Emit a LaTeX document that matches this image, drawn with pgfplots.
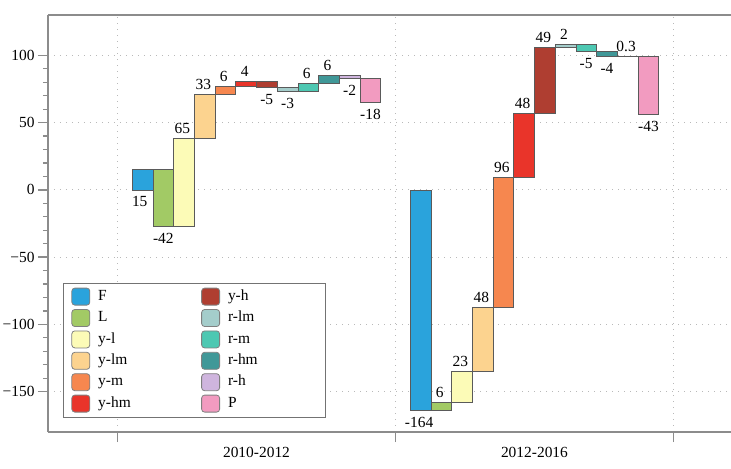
\documentclass[border=0pt]{standalone}
\usepackage{pgfplots}
\pgfplotsset{compat=1.18}
\usepackage{fontspec}
\setmainfont{Liberation Serif}
\newcommand\fs{\fontsize{15.5}{18}\selectfont}
\definecolor{cF}{HTML}{2AA3DC}
\definecolor{cL}{HTML}{A2CA65}
\definecolor{cyl}{HTML}{FCFBB7}
\definecolor{cylm}{HTML}{FCD38F}
\definecolor{cym}{HTML}{F6874F}
\definecolor{cyhm}{HTML}{E9342A}
\definecolor{cyh}{HTML}{AF3E31}
\definecolor{crlm}{HTML}{A4CDCB}
\definecolor{crm}{HTML}{4DC8B2}
\definecolor{crhm}{HTML}{409898}
\definecolor{crh}{HTML}{CFB5DE}
\definecolor{cP}{HTML}{F29BC0}
\definecolor{barline}{HTML}{5A5A5A}
\definecolor{axgray}{HTML}{8C8C8C}
\begin{document}
\begin{tikzpicture}
\useasboundingbox (-48bp,-37bp) rectangle (683bp,432bp);
\begin{axis}[
  at={(0,0)}, anchor=south west,
  scale only axis, width=683bp, height=417bp,
  xmin=0.25, xmax=2.707, ymin=-180, ymax=130,
  axis x line*=box, axis y line*=left,
  axis line style={axgray, line width=1.3bp},
  every tick/.style={axgray, line width=1.3bp},
  tick align=outside,
  major tick length=10bp, minor tick length=5bp,
  xtick pos=left, ytick pos=left,
  xtick={0.5,1.5,2.5}, xticklabels={},
  extra x ticks={1,2}, extra x tick labels={2010-2012,2012-2016},
  extra x tick style={major tick length=0pt, xmajorgrids=false, xticklabel style={yshift=-12bp}},
  ytick={-150,-100,-50,0,50,100},
  yticklabels={−150,−100,−50,0,50,100},
  minor y tick num=4,
  xmajorgrids, ymajorgrids,
  grid style={gray!55, line width=1bp, dash pattern=on 1bp off 5bp},
  tick label style={font=\fs},
  /pgf/number format/assume math mode=true,
  legend columns=2,
  legend cell align=left,
  legend image code/.code={\draw[#1, draw=gray, line width=0.8bp, rounded corners=3bp] (0bp,-8.5bp) rectangle (18bp,8.5bp);},
  legend style={at={(0.022,0.358)}, anchor=north west, font=\fs,
    draw=gray!90!black, line width=0.8bp, inner xsep=8bp, inner ysep=4.25bp,
    row sep=2.9bp,
    nodes={inner xsep=3bp, inner ysep=2bp, text width=86bp, text height=11bp, text depth=3.5bp},
    /tikz/every odd column/.append style={column sep=5bp},
    /tikz/every even column/.append style={column sep=14bp}},
]
% ---- 2010-2012 ----
\addplot[fill=cF,  draw=barline, line width=0.6bp, forget plot] coordinates {(0.553,0) (0.6275,0) (0.6275,15) (0.553,15)} -- cycle;
\addplot[fill=cL,  draw=barline, line width=0.6bp, forget plot] coordinates {(0.6275,-27) (0.702,-27) (0.702,15) (0.6275,15)} -- cycle;
\addplot[fill=cyl, draw=barline, line width=0.6bp, forget plot] coordinates {(0.702,-27) (0.7765,-27) (0.7765,38) (0.702,38)} -- cycle;
\addplot[fill=cylm,draw=barline, line width=0.6bp, forget plot] coordinates {(0.7765,38) (0.851,38) (0.851,71) (0.7765,71)} -- cycle;
\addplot[fill=cym, draw=barline, line width=0.6bp, forget plot] coordinates {(0.851,71) (0.9255,71) (0.9255,77) (0.851,77)} -- cycle;
\addplot[fill=cyhm,draw=barline, line width=0.6bp, forget plot] coordinates {(0.9255,77) (1.000,77) (1.000,81) (0.9255,81)} -- cycle;
\addplot[fill=cyh, draw=barline, line width=0.6bp, forget plot] coordinates {(1.000,76) (1.0745,76) (1.0745,81) (1.000,81)} -- cycle;
\addplot[fill=crlm,draw=barline, line width=0.6bp, forget plot] coordinates {(1.0745,73) (1.149,73) (1.149,76) (1.0745,76)} -- cycle;
\addplot[fill=crm, draw=barline, line width=0.6bp, forget plot] coordinates {(1.149,73) (1.2235,73) (1.2235,79) (1.149,79)} -- cycle;
\addplot[fill=crhm,draw=barline, line width=0.6bp, forget plot] coordinates {(1.2235,79) (1.298,79) (1.298,85) (1.2235,85)} -- cycle;
\addplot[fill=crh, draw=barline, line width=0.6bp, forget plot] coordinates {(1.298,83) (1.3725,83) (1.3725,85) (1.298,85)} -- cycle;
\addplot[fill=cP,  draw=barline, line width=0.6bp, forget plot] coordinates {(1.3725,65) (1.447,65) (1.447,83) (1.3725,83)} -- cycle;
% ---- 2012-2016 ----
\addplot[fill=cF,  draw=barline, line width=0.6bp, forget plot] coordinates {(1.553,-164) (1.6275,-164) (1.6275,0) (1.553,0)} -- cycle;
\addplot[fill=cL,  draw=barline, line width=0.6bp, forget plot] coordinates {(1.6275,-164) (1.702,-164) (1.702,-158) (1.6275,-158)} -- cycle;
\addplot[fill=cyl, draw=barline, line width=0.6bp, forget plot] coordinates {(1.702,-158) (1.7765,-158) (1.7765,-135) (1.702,-135)} -- cycle;
\addplot[fill=cylm,draw=barline, line width=0.6bp, forget plot] coordinates {(1.7765,-135) (1.851,-135) (1.851,-87) (1.7765,-87)} -- cycle;
\addplot[fill=cym, draw=barline, line width=0.6bp, forget plot] coordinates {(1.851,-87) (1.9255,-87) (1.9255,9) (1.851,9)} -- cycle;
\addplot[fill=cyhm,draw=barline, line width=0.6bp, forget plot] coordinates {(1.9255,9) (2.000,9) (2.000,57) (1.9255,57)} -- cycle;
\addplot[fill=cyh, draw=barline, line width=0.6bp, forget plot] coordinates {(2.000,57) (2.0745,57) (2.0745,106) (2.000,106)} -- cycle;
\addplot[fill=crlm,draw=barline, line width=0.6bp, forget plot] coordinates {(2.0745,106) (2.149,106) (2.149,108) (2.0745,108)} -- cycle;
\addplot[fill=crm, draw=barline, line width=0.6bp, forget plot] coordinates {(2.149,103) (2.2235,103) (2.2235,108) (2.149,108)} -- cycle;
\addplot[fill=crhm,draw=barline, line width=0.6bp, forget plot] coordinates {(2.2235,99) (2.298,99) (2.298,103) (2.2235,103)} -- cycle;
\addplot[fill=crh, draw=barline, line width=0.6bp, forget plot] coordinates {(2.298,99) (2.3725,99) (2.3725,99.3) (2.298,99.3)} -- cycle;
\addplot[fill=cP,  draw=barline, line width=0.6bp, forget plot] coordinates {(2.3725,56.3) (2.447,56.3) (2.447,99.3) (2.3725,99.3)} -- cycle;
% ---- value labels above ----
\addplot[draw=none, mark=none, forget plot, nodes near coords, point meta=explicit symbolic,
  nodes near coords style={anchor=south, font=\fs, inner sep=2bp, yshift=2.5bp, xshift=-1.5bp, text=black}]
  table[meta=lab] {
x y lab
0.739 38 65
0.814 71 33
0.888 77 6
0.963 81 4
1.186 79 6
1.261 85 6
1.665 -158 6
1.739 -135 23
1.814 -87 48
1.888 9 96
1.963 57 48
2.037 106 49
2.112 108 2
2.335 99.3 0.3
};
% ---- value labels below ----
\addplot[draw=none, mark=none, forget plot, nodes near coords, point meta=explicit symbolic,
  nodes near coords style={anchor=north, font=\fs, inner sep=2bp, yshift=-4.5bp, text=black}]
  table[meta=lab] {
x y lab
0.580 0 15
0.665 -27 -42
1.037 76 -5
1.112 73 -3
1.335 83 -2
1.410 65 -18
1.585 -164 -164
2.186 103 -5
2.261 99 -4
2.410 56.3 -43
};
% ---- legend ----
\addlegendimage{fill=cF}\addlegendentry{F}
\addlegendimage{fill=cyh}\addlegendentry{y-h}
\addlegendimage{fill=cL}\addlegendentry{L}
\addlegendimage{fill=crlm}\addlegendentry{r-lm}
\addlegendimage{fill=cyl}\addlegendentry{y-l}
\addlegendimage{fill=crm}\addlegendentry{r-m}
\addlegendimage{fill=cylm}\addlegendentry{y-lm}
\addlegendimage{fill=crhm}\addlegendentry{r-hm}
\addlegendimage{fill=cym}\addlegendentry{y-m}
\addlegendimage{fill=crh}\addlegendentry{r-h}
\addlegendimage{fill=cyhm}\addlegendentry{y-hm}
\addlegendimage{fill=cP}\addlegendentry{P}
\end{axis}
\end{tikzpicture}
\end{document}
